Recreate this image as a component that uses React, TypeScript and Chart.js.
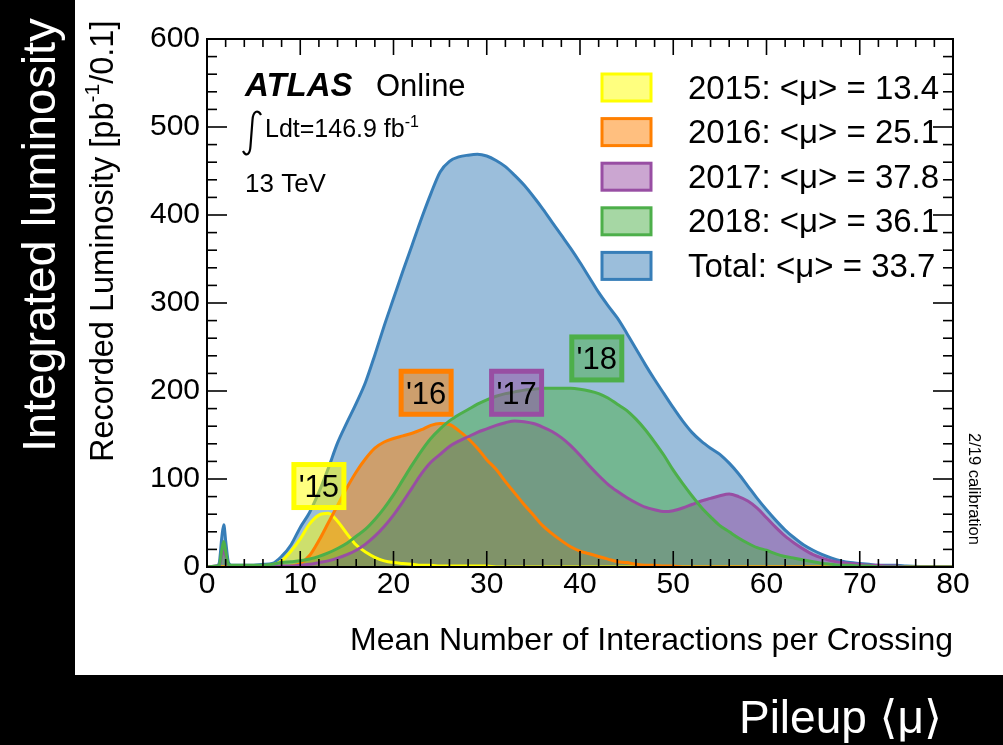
import React, { useEffect, useRef } from "react";
import { Chart, registerables } from "chart.js";

Chart.register(...registerables);

// ---------------- data ----------------
const MU = [
  0, 1, 1.3, 1.6, 1.8, 2.0, 2.3, 2.6,
  3, 4, 5, 6, 7, 8, 9, 10, 11, 12, 13, 14, 15, 16, 17, 18, 19, 20,
  21, 22, 23, 24, 25, 26, 27, 28, 29, 30, 31, 32, 33, 34, 35, 36, 37, 38, 39, 40,
  41, 42, 43, 44, 45, 46, 47, 48, 49, 50, 51, 52, 53, 54, 55, 56, 57, 58, 59, 60,
  61, 62, 63, 64, 65, 66, 67, 68, 69, 70, 71, 72, 73, 74, 75, 80,
];

const TOTAL = [
  0, 1, 4, 35, 48, 30, 5, 2,
  2, 2, 2, 3, 4, 12, 25, 45, 62, 85, 112, 141, 164, 186, 210, 241, 274, 305,
  336, 366, 396, 424, 449, 461, 466, 468, 469, 467, 462, 455, 445, 434, 421, 407, 392, 377, 362, 346,
  329, 312, 297, 283, 266, 248, 230, 213, 197, 181, 166, 153, 143, 135, 128, 118, 106, 92, 78, 65,
  53, 42, 33, 25, 19, 14, 10, 7, 5, 4, 3, 2, 2, 2, 1, 0,
];

const Y2015 = [
  0, 0, 0, 0, 0, 0, 0, 0,
  0, 0, 0, 0, 2, 7, 18, 32, 49, 59, 61, 52, 38, 25, 17, 11, 7, 5,
  4, 3, 2, 2, 1, 1, 1, 1, 1, 1, 0, 0, 0, 0, 0, 0, 0, 0, 0, 0,
  0, 0, 0, 0, 0, 0, 0, 0, 0, 0, 0, 0, 0, 0, 0, 0, 0, 0, 0, 0,
  0, 0, 0, 0, 0, 0, 0, 0, 0, 0, 0, 0, 0, 0, 0, 0,
];

const Y2016 = [
  0, 0, 0, 0, 0, 0, 0, 0,
  0, 0, 0, 0, 0, 0, 1, 4, 13, 30, 50, 70, 90, 108, 123, 135, 142, 146,
  149, 152, 156, 161, 163, 162, 155, 146, 135, 122, 111, 97, 84, 71, 59, 47, 38, 30, 23, 18,
  15, 12, 9, 6, 5, 3, 2, 2, 1, 1, 0, 0, 0, 0, 0, 0, 0, 0, 0, 0,
  0, 0, 0, 0, 0, 0, 0, 0, 0, 0, 0, 0, 0, 0, 0, 0,
];

const Y2017 = [
  0, 1, 1, 14, 21, 13, 2, 1,
  1, 1, 1, 1, 1, 1, 1, 2, 3, 5, 7, 10, 14, 19, 26, 35, 46, 59,
  74, 90, 106, 119, 128, 137, 143, 148, 153, 157, 161, 164, 166, 165, 163, 159, 154, 147, 138, 127,
  115, 104, 94, 86, 79, 73, 68, 65, 63, 64, 67, 71, 75, 78, 81, 83, 80, 75, 67, 56,
  45, 35, 27, 20, 14, 10, 7, 5, 4, 3, 2, 2, 1, 1, 0, 0,
];

const Y2018 = [
  0, 1, 2, 20, 29, 18, 3, 2,
  2, 2, 2, 2, 3, 5, 6, 7, 9, 12, 16, 21, 27, 35, 43, 54, 67, 82,
  99, 116, 132, 146, 157, 166, 173, 179, 185, 190, 194, 197, 199, 201, 202, 203, 203, 203, 203, 202,
  200, 197, 192, 185, 178, 168, 156, 142, 127, 110, 95, 81, 68, 57, 47, 40, 33, 27, 22, 19,
  15, 12, 10, 8, 6, 4, 3, 2, 2, 1, 1, 0, 0, 0, 0, 0,
];

const LEGEND_LABELS = [
  "2015: <\u03bc> = 13.4",
  "2016: <\u03bc> = 25.1",
  "2017: <\u03bc> = 37.8",
  "2018: <\u03bc> = 36.1",
  "Total: <\u03bc> = 33.7",
];

const YEAR_TAGS = ["'15", "'16", "'17", "'18"];

// ---------------- styles ----------------
const LINE_COLORS = ["#ffff00", "#ff7f00", "#984ea3", "#4daf4a", "#377eb8"];
const FILL_COLORS = [
  "rgba(255,255,0,0.5)",
  "rgba(255,127,0,0.5)",
  "rgba(152,78,163,0.5)",
  "rgba(77,175,74,0.5)",
  "rgba(55,126,184,0.5)",
];
// tag anchor positions (data coordinates of box centres)
const TAG_POS = [
  { x: 12.0, y: 92 },
  { x: 23.5, y: 198 },
  { x: 33.2, y: 198 },
  { x: 41.8, y: 237 },
];

const FONT = '"Liberation Sans", Arial, "DejaVu Sans", sans-serif';

const toXY = (arr: number[]) => MU.map((m, i) => ({ x: m, y: arr[i] }));

const bgPlugin = {
  id: "bg",
  beforeDraw(chart: any) {
    const { ctx, width, height } = chart;
    ctx.save();
    ctx.fillStyle = "#000";
    ctx.fillRect(0, 0, width, height);
    ctx.fillStyle = "#fff";
    ctx.fillRect(75, 0, width - 75, 675);
    ctx.restore();
  },
};

const framePlugin = {
  id: "frame",
  afterDatasetsDraw(chart: any) {
    const { ctx, chartArea, scales } = chart;
    const { left, right, top, bottom } = chartArea;
    const x = scales.x;
    const y = scales.y;
    ctx.save();
    ctx.strokeStyle = "#000";
    ctx.lineWidth = 1.6;
    const line = (x1: number, y1: number, x2: number, y2: number) => {
      ctx.beginPath();
      ctx.moveTo(x1, y1);
      ctx.lineTo(x2, y2);
      ctx.stroke();
    };
    for (let v = 0; v <= 80; v += 2) {
      const px = x.getPixelForValue(v);
      const len = v % 10 === 0 ? 16 : 8;
      line(px, bottom, px, bottom - len);
      line(px, top, px, top + len);
    }
    for (let v = 0; v <= 600; v += 20) {
      const py = y.getPixelForValue(v);
      const len = v % 100 === 0 ? 20 : 10;
      line(left, py, left + len, py);
      line(right, py, right - len, py);
    }
    ctx.lineWidth = 2;
    ctx.strokeRect(left, top, right - left, bottom - top);

    // year tags
    YEAR_TAGS.forEach((t, i) => {
      const cx = x.getPixelForValue(TAG_POS[i].x);
      const cy = y.getPixelForValue(TAG_POS[i].y);
      const w = 50, h = 43;
      ctx.fillStyle = FILL_COLORS[i];
      ctx.fillRect(cx - w / 2, cy - h / 2, w, h);
      ctx.strokeStyle = LINE_COLORS[i];
      ctx.lineWidth = 5;
      ctx.strokeRect(cx - w / 2, cy - h / 2, w, h);
      ctx.fillStyle = "#000";
      ctx.font = `31px ${FONT}`;
      ctx.textAlign = "center";
      ctx.textBaseline = "alphabetic";
      ctx.fillText(t, cx, cy + 11);
    });
    ctx.restore();
  },
};

function drawParts(ctx: any, parts: { t: string; sup?: boolean }[], x: number, y: number, size: number) {
  let cx = x;
  for (const p of parts) {
    const s = p.sup ? Math.round(size * 0.65) : size;
    ctx.font = `${s}px ${FONT}`;
    ctx.fillText(p.t, cx, p.sup ? y - size * 0.42 : y);
    cx += ctx.measureText(p.t).width;
  }
}

const textPlugin = {
  id: "texts",
  afterDraw(chart: any) {
    const { ctx } = chart;
    ctx.save();
    ctx.textAlign = "left";
    ctx.textBaseline = "alphabetic";
    ctx.fillStyle = "#000";

    ctx.font = `italic bold 33px ${FONT}`;
    ctx.fillText("ATLAS", 245, 96);
    ctx.font = `31px ${FONT}`;
    ctx.fillText("Online", 376, 96);

    // integral sign
    ctx.strokeStyle = "#000";
    ctx.lineWidth = 2.2;
    ctx.beginPath();
    ctx.moveTo(261, 115);
    ctx.bezierCurveTo(258, 109, 253, 111, 252.5, 120);
    ctx.lineTo(250.5, 146);
    ctx.bezierCurveTo(250, 155, 246, 157, 243, 151);
    ctx.stroke();
    drawParts(ctx, [{ t: "Ldt=146.9 fb" }, { t: "-1", sup: true }], 265, 137, 25);

    ctx.font = `26px ${FONT}`;
    ctx.fillText("13 TeV", 245, 192);

    // legend
    LEGEND_LABELS.forEach((lab, i) => {
      const cy = 87.5 + i * 44.6;
      ctx.fillStyle = FILL_COLORS[i];
      ctx.fillRect(602, cy - 13.5, 49, 27);
      ctx.strokeStyle = LINE_COLORS[i];
      ctx.lineWidth = 3;
      ctx.strokeRect(602, cy - 13.5, 49, 27);
      ctx.fillStyle = "#000";
      ctx.font = `33px ${FONT}`;
      ctx.fillText(lab, 688, cy + 11);
    });

    // x title
    ctx.textAlign = "right";
    ctx.font = `32px ${FONT}`;
    ctx.fillText("Mean Number of Interactions per Crossing", 953, 650);

    // y title
    ctx.save();
    ctx.translate(113, 462);
    ctx.rotate(-Math.PI / 2);
    ctx.textAlign = "left";
    drawParts(ctx, [{ t: "Recorded Luminosity [pb" }, { t: "-1", sup: true }, { t: "/0.1]" }], 0, 0, 32.5);
    ctx.restore();

    // calibration note
    ctx.save();
    ctx.translate(969, 433);
    ctx.rotate(Math.PI / 2);
    ctx.textAlign = "left";
    ctx.font = `16.5px ${FONT}`;
    ctx.fillText("2/19 calibration", 0, 0);
    ctx.restore();

    // outer white texts
    ctx.fillStyle = "#fff";
    ctx.save();
    ctx.translate(55, 452);
    ctx.rotate(-Math.PI / 2);
    ctx.textAlign = "left";
    ctx.font = `47px ${FONT}`;
    ctx.fillText("Integrated luminosity", 0, 0);
    ctx.restore();

    ctx.textAlign = "right";
    ctx.font = `46px ${FONT}`;
    ctx.fillText("Pileup \u27e8\u03bc\u27e9", 942, 733);
    ctx.restore();
  },
};

export default function App() {
  const ref = useRef<HTMLCanvasElement | null>(null);

  useEffect(() => {
    document.body.style.margin = "0";
    document.body.style.background = "#000";
    const canvas = ref.current;
    if (!canvas) return;
    const series = [TOTAL, Y2015, Y2016, Y2017, Y2018];
    const colorIdx = [4, 0, 1, 2, 3];
    const names = ["Total", "2015", "2016", "2017", "2018"];
    // fill pass (drawn first) then line pass on top
    const fills = series.map((s, k) => ({
      label: names[k] + " fill",
      data: toXY(s),
      borderWidth: 0,
      borderColor: "rgba(0,0,0,0)",
      backgroundColor: FILL_COLORS[colorIdx[k]],
      fill: "origin",
      pointRadius: 0,
      cubicInterpolationMode: "monotone" as const,
      order: 20 - k,
    }));
    const lines = series.map((s, k) => ({
      label: names[k],
      data: toXY(s),
      borderWidth: 3,
      borderColor: LINE_COLORS[colorIdx[k]],
      backgroundColor: FILL_COLORS[colorIdx[k]],
      fill: false,
      pointRadius: 0,
      cubicInterpolationMode: "monotone" as const,
      order: 10 - k,
    }));
    const chart = new Chart(canvas, {
      type: "line",
      data: { datasets: [...fills, ...lines] },
      options: {
        responsive: false,
        animation: false,
        devicePixelRatio: 1,
        layout: { padding: { top: 39, right: 50, left: 0, bottom: 0 } },
        plugins: { legend: { display: false }, tooltip: { enabled: false } },
        scales: {
          x: {
            type: "linear",
            min: 0,
            max: 80,
            ticks: {
              stepSize: 10,
              color: "#000",
              font: { family: FONT, size: 30, lineHeight: 1.2 },
              padding: 0,
              maxRotation: 0,
            },
            grid: { display: false, drawTicks: false },
            border: { display: false },
            afterFit: (s: any) => {
              s.height = 178;
            },
          },
          y: {
            min: 0,
            max: 600,
            ticks: {
              stepSize: 100,
              color: "#000",
              font: { family: FONT, size: 30 },
              padding: 7,
            },
            grid: { display: false, drawTicks: false },
            border: { display: false },
            afterFit: (s: any) => {
              s.width = 207;
            },
          },
        },
      },
      plugins: [bgPlugin, framePlugin, textPlugin],
    } as any);
    return () => chart.destroy();
  }, []);

  return (
    <div style={{ width: 1003, height: 745, overflow: "hidden", background: "#000" }}>
      <canvas ref={ref} width={1003} height={745} style={{ display: "block" }} />
    </div>
  );
}
